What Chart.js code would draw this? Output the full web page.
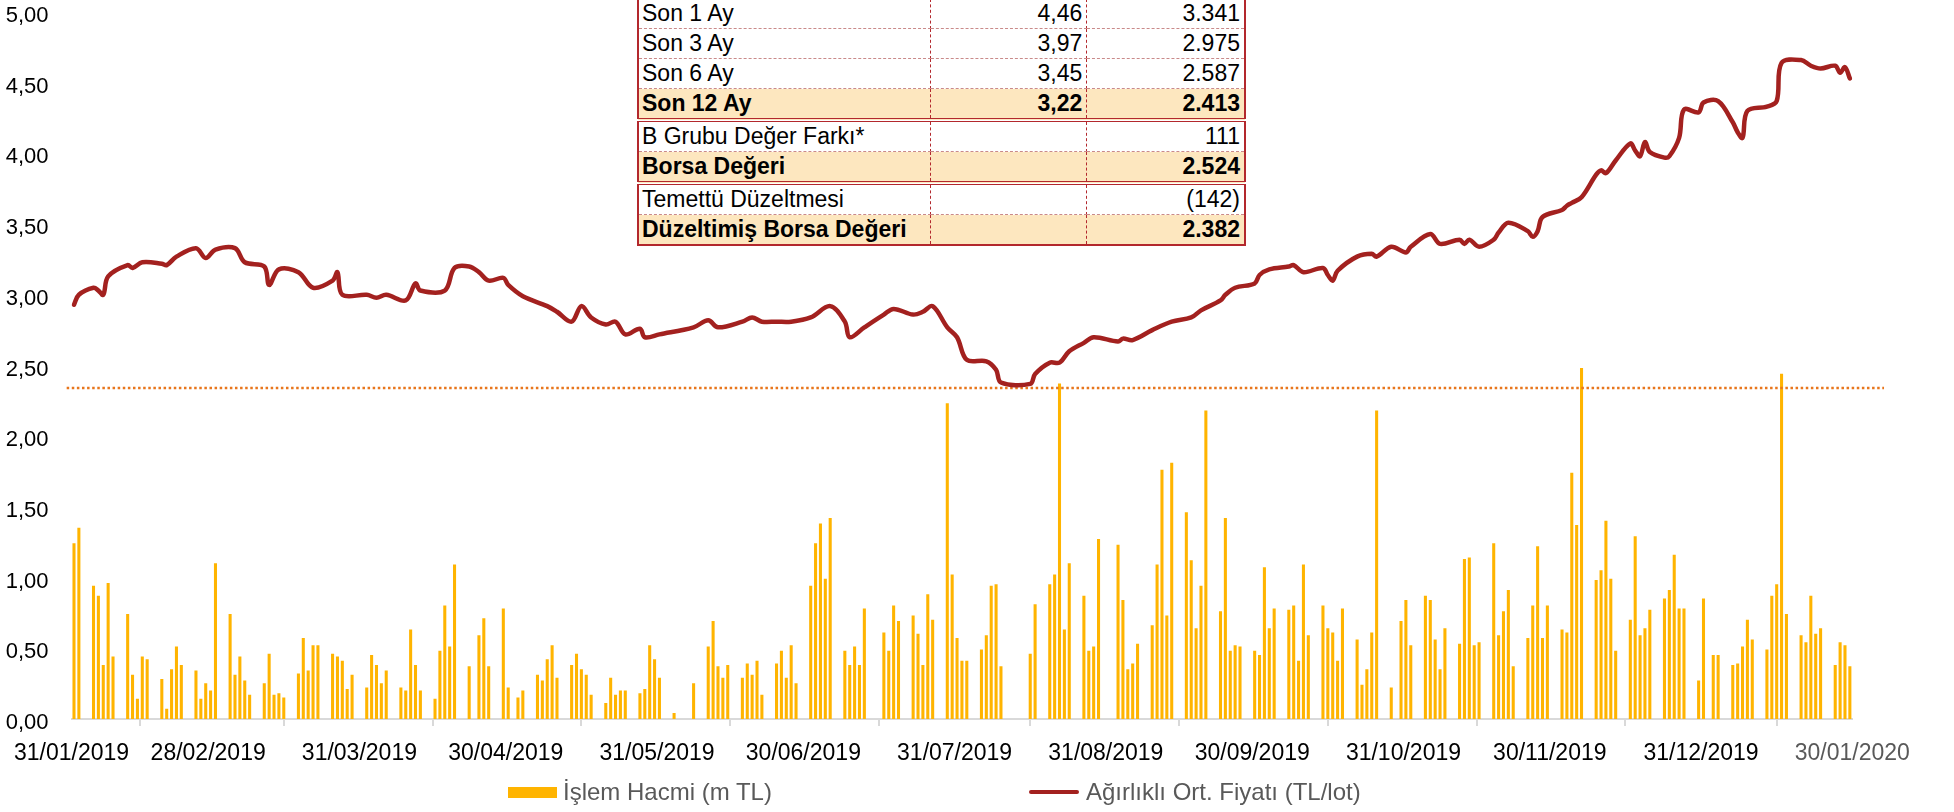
<!DOCTYPE html>
<html lang="tr">
<head>
<meta charset="utf-8">
<title>İşlem Hacmi ve Ağırlıklı Ort. Fiyat</title>
<script src="https://cdn.jsdelivr.net/npm/chart.js@4.4.1/dist/chart.umd.min.js"></script>
<style>
  html,body{margin:0;padding:0;background:#fff;}
  #kutu{position:relative;width:1954px;height:812px;overflow:hidden;font-family:'Liberation Sans',Arial,sans-serif;}
  #grafik{position:absolute;left:0;top:0;}
  #tablo{position:absolute;left:637px;top:-3px;width:609px;border-collapse:collapse;border:2px solid #b3282d;font-size:23px;color:#000;background:#fff;}
  #tablo td{height:29px;line-height:29px;padding:0 4px 0 3px;border-right:1px dashed #b3282d;border-bottom:1px dashed #c98a8a;white-space:nowrap;box-sizing:border-box;}
  #tablo td.s{text-align:right;}
  #tablo tr.vurgu td{background:#fde7bf;font-weight:bold;}
  #tablo tr.cift td{border-bottom:4px double #b3282d;}
  .lej{position:absolute;font-size:24px;color:#595959;line-height:28px;}
</style>
</head>
<body>
<div id="kutu">
  <canvas id="grafik" width="1954" height="812"></canvas>

  <table id="tablo">
    <colgroup><col style="width:293px"><col style="width:157px"><col style="width:159px"></colgroup>
    <tr><td>Son 1 Ay</td><td class="s">4,46</td><td class="s">3.341</td></tr>
    <tr><td>Son 3 Ay</td><td class="s">3,97</td><td class="s">2.975</td></tr>
    <tr><td>Son 6 Ay</td><td class="s">3,45</td><td class="s">2.587</td></tr>
    <tr class="vurgu cift"><td>Son 12 Ay</td><td class="s">3,22</td><td class="s">2.413</td></tr>
    <tr><td>B Grubu Değer Farkı*</td><td class="s"></td><td class="s">111</td></tr>
    <tr class="vurgu cift"><td>Borsa Değeri</td><td class="s"></td><td class="s">2.524</td></tr>
    <tr><td>Temettü Düzeltmesi</td><td class="s"></td><td class="s">(142)</td></tr>
    <tr class="vurgu"><td>Düzeltimiş Borsa Değeri</td><td class="s"></td><td class="s">2.382</td></tr>
  </table>

  <div style="position:absolute;left:508px;top:787px;width:49px;height:11px;background:#ffb400;"></div>
  <div class="lej" style="left:563px;top:778px;">İşlem Hacmi (m TL)</div>
  <div style="position:absolute;left:1029px;top:790px;width:50px;height:4px;background:#a3211f;border-radius:2px;"></div>
  <div class="lej" style="left:1086px;top:778px;">Ağırlıklı Ort. Fiyatı (TL/lot)</div>
</div>

<script>
// ===== Veriler =====
// işlem günleri ve günlük işlem hacmi (m TL)
const tarihler = [
  '2019-01-31','2019-02-01',
  '2019-02-04','2019-02-05','2019-02-06','2019-02-07','2019-02-08',
  '2019-02-11','2019-02-12','2019-02-13','2019-02-14','2019-02-15',
  '2019-02-18','2019-02-19','2019-02-20','2019-02-21','2019-02-22',
  '2019-02-25','2019-02-26','2019-02-27','2019-02-28','2019-03-01',
  '2019-03-04','2019-03-05','2019-03-06','2019-03-07','2019-03-08',
  '2019-03-11','2019-03-12','2019-03-13','2019-03-14','2019-03-15',
  '2019-03-18','2019-03-19','2019-03-20','2019-03-21','2019-03-22',
  '2019-03-25','2019-03-26','2019-03-27','2019-03-28','2019-03-29',
  '2019-04-01','2019-04-02','2019-04-03','2019-04-04','2019-04-05',
  '2019-04-08','2019-04-09','2019-04-10','2019-04-11','2019-04-12',
  '2019-04-15','2019-04-16','2019-04-17','2019-04-18','2019-04-19',
  '2019-04-22','2019-04-24','2019-04-25','2019-04-26',
  '2019-04-29','2019-04-30','2019-05-02','2019-05-03',
  '2019-05-06','2019-05-07','2019-05-08','2019-05-09','2019-05-10',
  '2019-05-13','2019-05-14','2019-05-15','2019-05-16','2019-05-17',
  '2019-05-20','2019-05-21','2019-05-22','2019-05-23','2019-05-24',
  '2019-05-27','2019-05-28','2019-05-29','2019-05-30','2019-05-31',
  '2019-06-03','2019-06-07',
  '2019-06-10','2019-06-11','2019-06-12','2019-06-13','2019-06-14',
  '2019-06-17','2019-06-18','2019-06-19','2019-06-20','2019-06-21',
  '2019-06-24','2019-06-25','2019-06-26','2019-06-27','2019-06-28',
  '2019-07-01','2019-07-02','2019-07-03','2019-07-04','2019-07-05',
  '2019-07-08','2019-07-09','2019-07-10','2019-07-11','2019-07-12',
  '2019-07-16','2019-07-17','2019-07-18','2019-07-19',
  '2019-07-22','2019-07-23','2019-07-24','2019-07-25','2019-07-26',
  '2019-07-29','2019-07-30','2019-07-31','2019-08-01','2019-08-02',
  '2019-08-05','2019-08-06','2019-08-07','2019-08-08','2019-08-09',
  '2019-08-15','2019-08-16',
  '2019-08-19','2019-08-20','2019-08-21','2019-08-22','2019-08-23',
  '2019-08-26','2019-08-27','2019-08-28','2019-08-29',
  '2019-09-02','2019-09-03','2019-09-04','2019-09-05','2019-09-06',
  '2019-09-09','2019-09-10','2019-09-11','2019-09-12','2019-09-13',
  '2019-09-16','2019-09-17','2019-09-18','2019-09-19','2019-09-20',
  '2019-09-23','2019-09-24','2019-09-25','2019-09-26','2019-09-27',
  '2019-09-30','2019-10-01','2019-10-02','2019-10-03','2019-10-04',
  '2019-10-07','2019-10-08','2019-10-09','2019-10-10','2019-10-11',
  '2019-10-14','2019-10-15','2019-10-16','2019-10-17','2019-10-18',
  '2019-10-21','2019-10-22','2019-10-23','2019-10-24','2019-10-25',
  '2019-10-28','2019-10-30','2019-10-31','2019-11-01',
  '2019-11-04','2019-11-05','2019-11-06','2019-11-07','2019-11-08',
  '2019-11-11','2019-11-12','2019-11-13','2019-11-14','2019-11-15',
  '2019-11-18','2019-11-19','2019-11-20','2019-11-21','2019-11-22',
  '2019-11-25','2019-11-26','2019-11-27','2019-11-28','2019-11-29',
  '2019-12-02','2019-12-03','2019-12-04','2019-12-05','2019-12-06',
  '2019-12-09','2019-12-10','2019-12-11','2019-12-12','2019-12-13',
  '2019-12-16','2019-12-17','2019-12-18','2019-12-19','2019-12-20',
  '2019-12-23','2019-12-24','2019-12-25','2019-12-26','2019-12-27',
  '2019-12-30','2019-12-31','2020-01-02','2020-01-03',
  '2020-01-06','2020-01-07','2020-01-08','2020-01-09','2020-01-10',
  '2020-01-13','2020-01-14','2020-01-15','2020-01-16','2020-01-17',
  '2020-01-20','2020-01-21','2020-01-22','2020-01-23','2020-01-24',
  '2020-01-27','2020-01-28','2020-01-29','2020-01-30'
];
const hacim = [
  1.24,1.35,
  0.94,0.87,0.38,0.96,0.44,
  0.74,0.31,0.14,0.44,0.42,
  0.28,0.07,0.35,0.51,0.38,
  0.34,0.14,0.25,0.20,1.10,
  0.74,0.31,0.44,0.27,0.17,
  0.25,0.46,0.17,0.18,0.15,
  0.32,0.57,0.34,0.52,0.52,
  0.46,0.44,0.41,0.21,0.31,
  0.22,0.45,0.38,0.25,0.34,
  0.22,0.20,0.63,0.38,0.20,
  0.14,0.48,0.80,0.51,1.09,
  0.37,0.59,0.71,0.37,
  0.78,0.22,0.15,0.20,
  0.31,0.27,0.42,0.52,0.29,
  0.38,0.46,0.35,0.31,0.17,
  0.11,0.29,0.17,0.20,0.20,
  0.18,0.21,0.52,0.42,0.29,
  0.04,0.25,
  0.51,0.69,0.37,0.29,0.38,
  0.29,0.39,0.31,0.41,0.17,
  0.39,0.48,0.29,0.52,0.25,
  0.94,1.24,1.38,0.99,1.42,
  0.48,0.38,0.51,0.38,0.78,
  0.61,0.48,0.80,0.69,
  0.73,0.60,0.38,0.88,0.70,
  2.23,1.02,0.57,0.41,0.41,
  0.49,0.59,0.94,0.95,0.37,
  0.46,0.81,
  0.95,1.02,2.37,0.63,1.10,
  0.87,0.48,0.51,1.27,
  1.23,0.84,0.35,0.39,0.53,
  0.66,1.09,1.76,0.73,1.81,
  1.46,1.12,0.64,0.94,2.18,
  0.76,1.42,0.48,0.52,0.51,
  0.48,0.45,1.07,0.64,0.78,
  0.77,0.80,0.41,1.09,0.59,
  0.80,0.64,0.61,0.41,0.78,
  0.56,0.24,0.35,0.61,2.18,
  0.22,0.69,0.84,0.52,
  0.87,0.84,0.56,0.35,0.64,
  0.53,1.13,1.14,0.52,0.54,
  1.24,0.59,0.76,0.91,0.37,
  0.57,0.80,1.22,0.57,0.80,
  0.63,0.61,1.74,1.37,2.48,
  0.98,1.05,1.40,0.99,0.48,
  0.70,1.29,0.59,0.64,0.77,
  0.85,0.91,1.16,0.78,0.78,
  0.27,0.85,0.45,0.45,
  0.38,0.39,0.51,0.70,0.56,
  0.49,0.87,0.95,2.44,0.74,
  0.59,0.54,0.87,0.60,0.64,
  0.38,0.54,0.52,0.37
];

// ağırlıklı ortalama fiyat (TL/lot)
const fiyatTarihleri = [
  '2019-01-31','2019-02-01','2019-02-04','2019-02-05','2019-02-06','2019-02-07','2019-02-11','2019-02-12',
  '2019-02-14','2019-02-18','2019-02-19','2019-02-21','2019-02-25','2019-02-27','2019-03-01','2019-03-05',
  '2019-03-07','2019-03-11','2019-03-12','2019-03-14','2019-03-18','2019-03-21','2019-03-25','2019-03-26',
  '2019-03-27','2019-04-01','2019-04-03','2019-04-05','2019-04-09','2019-04-11','2019-04-12','2019-04-17',
  '2019-04-19','2019-04-22','2019-04-24','2019-04-26','2019-04-29','2019-04-30','2019-05-03','2019-05-08',
  '2019-05-10','2019-05-13','2019-05-15','2019-05-17','2019-05-20','2019-05-22','2019-05-24','2019-05-27',
  '2019-05-28','2019-05-31','2019-06-07','2019-06-10','2019-06-12','2019-06-17','2019-06-19','2019-06-21',
  '2019-06-24','2019-06-27','2019-07-01','2019-07-05','2019-07-08','2019-07-09','2019-07-12','2019-07-16',
  '2019-07-18','2019-07-22','2019-07-24','2019-07-26','2019-07-29','2019-07-31','2019-08-02','2019-08-06',
  '2019-08-08','2019-08-09','2019-08-15','2019-08-16','2019-08-19','2019-08-21','2019-08-23','2019-08-26',
  '2019-08-28','2019-09-02','2019-09-03','2019-09-05','2019-09-09','2019-09-13','2019-09-17','2019-09-19',
  '2019-09-23','2019-09-24','2019-09-26','2019-09-30','2019-10-01','2019-10-03','2019-10-07','2019-10-08',
  '2019-10-10','2019-10-14','2019-10-15','2019-10-16','2019-10-17','2019-10-21','2019-10-24','2019-10-25',
  '2019-10-28','2019-10-31','2019-11-01','2019-11-05','2019-11-07','2019-11-11','2019-11-12','2019-11-13',
  '2019-11-15','2019-11-18','2019-11-19','2019-11-21','2019-11-25','2019-11-26','2019-11-27','2019-11-28',
  '2019-12-02','2019-12-03','2019-12-04','2019-12-06','2019-12-09','2019-12-10','2019-12-11','2019-12-13',
  '2019-12-16','2019-12-17','2019-12-18','2019-12-19','2019-12-20','2019-12-23','2019-12-24','2019-12-26',
  '2019-12-27','2019-12-30','2019-12-31','2020-01-03','2020-01-06','2020-01-07','2020-01-08','2020-01-09',
  '2020-01-13','2020-01-15','2020-01-16','2020-01-20','2020-01-22','2020-01-24','2020-01-27','2020-01-28',
  '2020-01-29','2020-01-30'
];
const fiyat = [
  2.93,3.00,3.05,3.03,3.00,3.13,3.21,3.19,
  3.23,3.22,3.21,3.27,3.33,3.26,3.32,3.33,
  3.23,3.20,3.07,3.18,3.16,3.05,3.10,3.16,
  3.00,3.00,2.98,3.00,2.96,3.08,3.03,3.03,
  3.19,3.20,3.16,3.10,3.12,3.07,2.99,2.92,
  2.88,2.81,2.92,2.84,2.79,2.81,2.72,2.76,
  2.70,2.72,2.77,2.82,2.77,2.81,2.84,2.81,
  2.81,2.81,2.84,2.92,2.81,2.70,2.77,2.86,
  2.90,2.86,2.88,2.92,2.77,2.70,2.54,2.53,
  2.47,2.38,2.37,2.44,2.52,2.52,2.60,2.66,
  2.70,2.67,2.69,2.68,2.75,2.81,2.84,2.89,
  2.96,3.00,3.05,3.08,3.14,3.18,3.20,3.21,
  3.16,3.19,3.14,3.10,3.17,3.27,3.29,3.27,
  3.34,3.30,3.34,3.43,3.36,3.39,3.36,3.39,
  3.34,3.39,3.44,3.51,3.45,3.41,3.45,3.55,
  3.60,3.63,3.65,3.69,3.85,3.88,3.86,3.95,
  4.07,4.02,3.98,4.08,4.01,3.97,3.98,4.11,
  4.31,4.29,4.36,4.37,4.22,4.15,4.11,4.30,
  4.33,4.37,4.64,4.66,4.62,4.60,4.62,4.57,
  4.61,4.53
];

// 12 aylık en düşük seviye çizgisi
const esikFiyat = 2.34;
const esikGunleri = [-1, 371.5];

// x ekseni: ay sonu tikleri ve etiketleri
const ayTikleri = ['2019-01-31','2019-02-28','2019-03-31','2019-04-30','2019-05-31','2019-06-30',
  '2019-07-31','2019-08-31','2019-09-30','2019-10-31','2019-11-30','2019-12-31','2020-01-31'];
const ayEtiketleri = ['31/01/2019','28/02/2019','31/03/2019','30/04/2019','31/05/2019','30/06/2019',
  '31/07/2019','31/08/2019','30/09/2019','31/10/2019','30/11/2019','31/12/2019','30/01/2020'];

// ===== Yardımcılar =====
const BAS = Date.UTC(2019, 0, 31);
function gun(t){
  const [y,m,d] = t.split('-').map(Number);
  return (Date.UTC(y, m-1, d) - BAS) / 864e5;
}
const virgul = v => v.toFixed(2).replace('.', ',');

Chart.defaults.font.family = "'Liberation Sans', Arial, sans-serif";
Chart.defaults.color = '#000';

const tikDegerleri = ayTikleri.map(gun);

new Chart(document.getElementById('grafik'), {
  type: 'bar',
  data: {
    datasets: [
      {
        type: 'line', label: 'Ağırlıklı Ort. Fiyatı (TL/lot)', order: 0,
        data: fiyatTarihleri.map((t,i)=>({x: gun(t)+0.5, y: fiyat[i]})),
        borderColor: '#a3211f', borderWidth: 4.5, pointRadius: 0,
        tension: 0.35, borderCapStyle: 'round', borderJoinStyle: 'round'
      },
      {
        type: 'line', label: 'esik', order: 1, clip: false,
        data: esikGunleri.map(g=>({x: g, y: esikFiyat})),
        borderColor: '#e8761c', borderWidth: 2.5, borderDash: [2.5, 2.6], pointRadius: 0
      },
      {
        type: 'bar', label: 'İşlem Hacmi (m TL)', order: 2,
        data: tarihler.map((t,i)=>({x: gun(t)+0.5, y: hacim[i]})),
        backgroundColor: '#ffb400', barThickness: 2.4
      }
    ]
  },
  options: {
    responsive: false,
    animation: false,
    devicePixelRatio: 1,
    layout: { padding: { top: 0, right: 101.7, bottom: 0, left: 0 } },
    plugins: { legend: { display: false }, tooltip: { enabled: false } },
    scales: {
      x: {
        type: 'linear', min: 0, max: 365, offset: false,
        afterBuildTicks: s => { s.ticks = tikDegerleri.map(v=>({value: v})); },
        afterFit: s => { s.height = 93; },
        grid: { drawOnChartArea: false, drawTicks: true, tickLength: 7, color: '#d9d9d9', lineWidth: 2 },
        border: { color: '#d9d9d9', width: 2 },
        ticks: {
          autoSkip: false, maxRotation: 0, padding: 14,
          font: { size: 23 },
          color: c => c.index === ayEtiketleri.length - 1 ? '#595959' : '#000',
          callback: (v, i) => ayEtiketleri[i]
        }
      },
      y: {
        min: 0, max: 5,
        afterFit: s => { s.width = 70.6; s.paddingTop = 12; },
        grid: { display: false },
        border: { display: false },
        ticks: { stepSize: 0.5, padding: 15, labelOffset: 4, font: { size: 22 }, callback: v => virgul(v) }
      }
    }
  }
});
</script>
</body>
</html>
